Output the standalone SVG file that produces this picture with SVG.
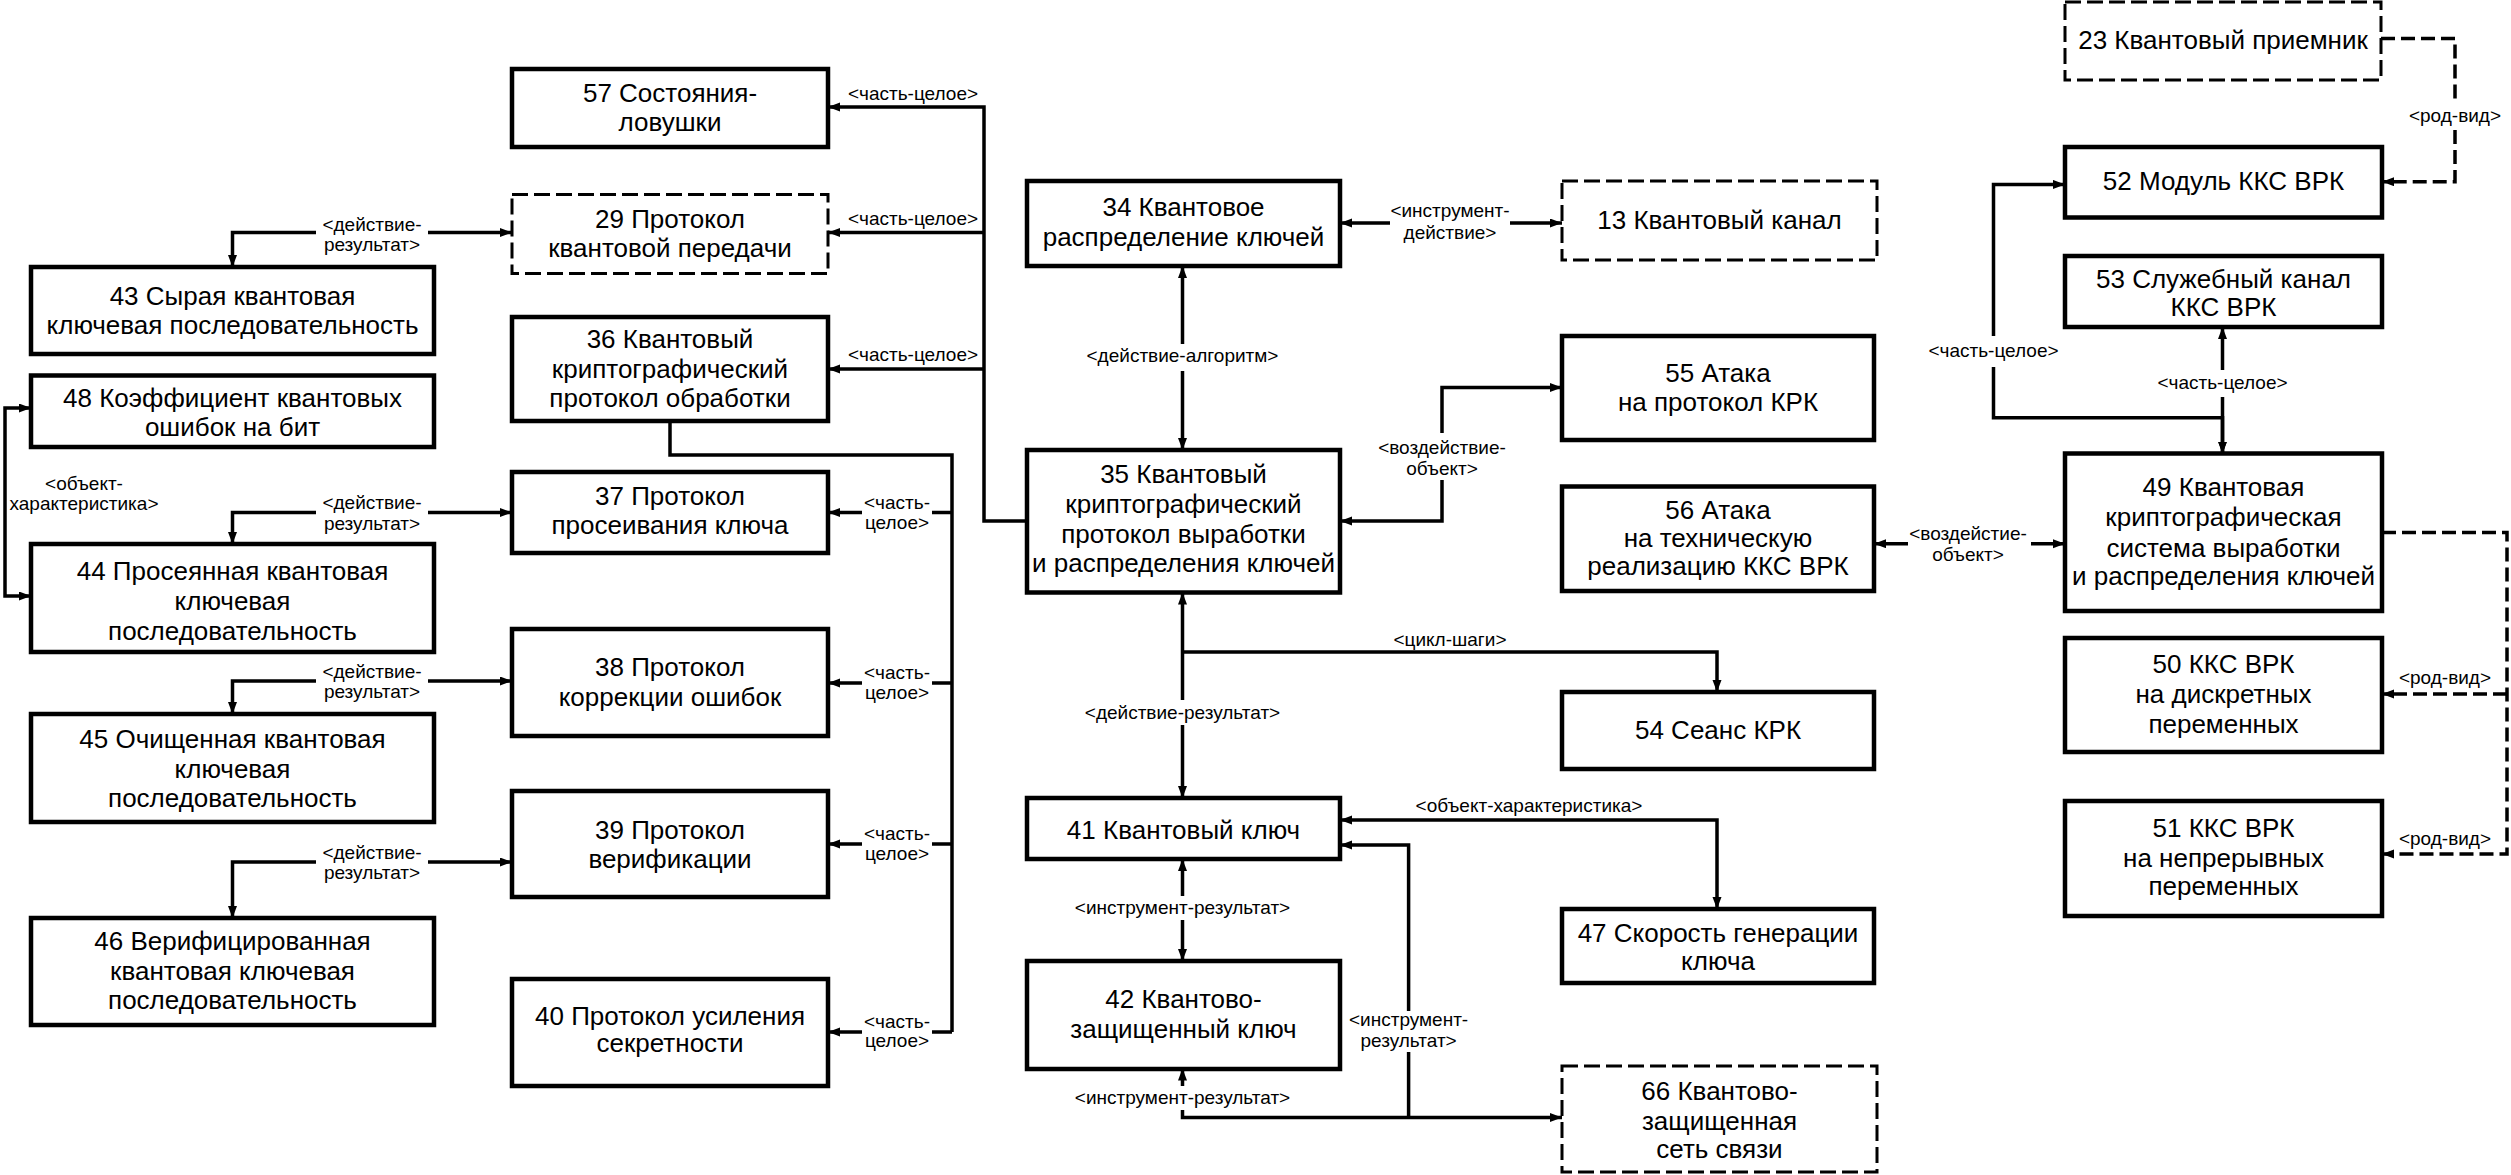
<svg xmlns="http://www.w3.org/2000/svg" width="2511" height="1175" viewBox="0 0 2511 1175">
<style>
  .box { fill: #fff; stroke: #000; stroke-width: 4.5; }
  .dbox { fill: #fff; stroke: #000; stroke-width: 3; stroke-dasharray: 16 6; }
  .t { font-family: "Liberation Sans", Arial, sans-serif; font-size: 26px; text-anchor: middle; fill: #000; }
  .lb { font-family: "Liberation Sans", Arial, sans-serif; font-size: 19px; text-anchor: middle; fill: #000; }
  .c { fill: none; stroke: #000; stroke-width: 3.5; }
  .cd { fill: none; stroke: #000; stroke-width: 3.5; stroke-dasharray: 14 6; }
  .ae { marker-end: url(#ah); }
  .as { marker-start: url(#ah); }
</style>
<defs>
  <marker id="ah" markerUnits="userSpaceOnUse" markerWidth="13" markerHeight="10" refX="12" refY="4.5" orient="auto-start-reverse">
    <path d="M0,0 L12,4.5 L0,9 z" fill="#000"/>
  </marker>
</defs>
<rect width="2511" height="1175" fill="#fff"/>

<g id="connectors">
  <path class="c as ae" d="M232.5 267 V232.5 H316 M428 232.5 H512"/>
  <path class="c as ae" d="M232.5 544 V512.5 H316 M428 512.5 H512"/>
  <path class="c as ae" d="M232.5 714 V681 H316 M428 681 H512"/>
  <path class="c as ae" d="M232.5 918 V862 H316 M428 862 H512"/>
  <path class="c as ae" d="M31 408 H5 V596 H31"/>
  <path class="c as" d="M828 107 H984 V521 H1027"/>
  <path class="c as" d="M828 232.5 H984"/>
  <path class="c as" d="M828 369 H984"/>
  <path class="c" d="M670 421 V455 H952 V1032"/>
  <path class="c ae" d="M952 512.5 H932 M862 512.5 H828"/>
  <path class="c ae" d="M952 683 H932 M862 683 H828"/>
  <path class="c ae" d="M952 844 H932 M862 844 H828"/>
  <path class="c ae" d="M952 1032 H932 M862 1032 H828"/>
  <path class="c as ae" d="M1340 223 H1390 M1510 223 H1562"/>
  <path class="c as ae" d="M1182.5 266 V344 M1182.5 371 V450"/>
  <path class="c as ae" d="M1340 521 H1442 V480 M1442 433 V387.6 H1562"/>
  <path class="c as ae" d="M1182.5 592.5 V700 M1182.5 725 V798"/>
  <path class="c ae" d="M1182.5 652 H1717 V692"/>
  <path class="c as ae" d="M1340 820 H1717 V909"/>
  <path class="c as ae" d="M1182.5 859 V896 M1182.5 920 V961"/>
  <path class="c as ae" d="M1182.5 1068.5 V1086 M1182.5 1110 V1117.5 H1562"/>
  <path class="c as" d="M1340 845 H1408.6 V1011 M1408.6 1052 V1117.5"/>
  <path class="cd ae" d="M2381 38.4 H2455 V103 M2455 130 V181.7 H2382"/>
  <path class="cd ae" d="M2382 532.5 H2507 V854 H2382"/>
  <path class="cd ae" d="M2507 694 H2382"/>
  <path class="c as ae" d="M2065 184.4 H1993.5 V336 M1993.5 367 V417.7 H2222.5 V453.5"/>
  <path class="c as ae" d="M2222.5 327 V370 M2222.5 397 V453.5"/>
  <path class="c as ae" d="M1874 543.7 H1908 M2031 543.7 H2065"/>

  <text class="lb" x="372" y="230.5">&lt;действие-</text>
  <text class="lb" x="372" y="250.5">результат&gt;</text>
  <text class="lb" x="372" y="508.5">&lt;действие-</text>
  <text class="lb" x="372" y="529.5">результат&gt;</text>
  <text class="lb" x="372" y="677.5">&lt;действие-</text>
  <text class="lb" x="372" y="697.5">результат&gt;</text>
  <text class="lb" x="372" y="858.5">&lt;действие-</text>
  <text class="lb" x="372" y="878.5">результат&gt;</text>
  <text class="lb" x="84" y="490">&lt;объект-</text>
  <text class="lb" x="84" y="510">характеристика&gt;</text>
  <text class="lb" x="913" y="99.5">&lt;часть-целое&gt;</text>
  <text class="lb" x="913" y="224.5">&lt;часть-целое&gt;</text>
  <text class="lb" x="913" y="360.5">&lt;часть-целое&gt;</text>
  <text class="lb" x="897" y="508.5">&lt;часть-</text>
  <text class="lb" x="897" y="528.5">целое&gt;</text>
  <text class="lb" x="897" y="678.5">&lt;часть-</text>
  <text class="lb" x="897" y="698.5">целое&gt;</text>
  <text class="lb" x="897" y="839.5">&lt;часть-</text>
  <text class="lb" x="897" y="859.5">целое&gt;</text>
  <text class="lb" x="897" y="1027.5">&lt;часть-</text>
  <text class="lb" x="897" y="1046.5">целое&gt;</text>
  <text class="lb" x="1450" y="217">&lt;инструмент-</text>
  <text class="lb" x="1450" y="239">действие&gt;</text>
  <text class="lb" x="1182.5" y="362">&lt;действие-алгоритм&gt;</text>
  <text class="lb" x="1442" y="453.5">&lt;воздействие-</text>
  <text class="lb" x="1442" y="475">объект&gt;</text>
  <text class="lb" x="1182.5" y="718.5">&lt;действие-результат&gt;</text>
  <text class="lb" x="1450" y="646">&lt;цикл-шаги&gt;</text>
  <text class="lb" x="1529" y="811.5">&lt;объект-характеристика&gt;</text>
  <text class="lb" x="1182.5" y="914">&lt;инструмент-результат&gt;</text>
  <text class="lb" x="1182.5" y="1104">&lt;инструмент-результат&gt;</text>
  <text class="lb" x="1408.6" y="1025.5">&lt;инструмент-</text>
  <text class="lb" x="1408.6" y="1046.5">результат&gt;</text>
  <text class="lb" x="2455" y="121.5">&lt;род-вид&gt;</text>
  <text class="lb" x="2445" y="683.5">&lt;род-вид&gt;</text>
  <text class="lb" x="2445" y="844.5">&lt;род-вид&gt;</text>
  <text class="lb" x="1993.5" y="356.5">&lt;часть-целое&gt;</text>
  <text class="lb" x="2222.5" y="388.5">&lt;часть-целое&gt;</text>
  <text class="lb" x="1968" y="540">&lt;воздейстие-</text>
  <text class="lb" x="1968" y="560.5">объект&gt;</text>
</g>

<g id="n57"><rect class="box" x="512" y="69" width="316" height="78"/>
  <text class="t" x="670" y="102">57 Состояния-</text><text class="t" x="670" y="131">ловушки</text></g>
<g id="n29"><rect class="dbox" x="512" y="194.5" width="316" height="79"/>
  <text class="t" x="670" y="228">29 Протокол</text><text class="t" x="670" y="256.6">квантовой передачи</text></g>
<g id="n43"><rect class="box" x="31" y="267" width="403" height="87"/>
  <text class="t" x="232.5" y="305">43 Сырая квантовая</text><text class="t" x="232.5" y="334">ключевая последовательность</text></g>
<g id="n36"><rect class="box" x="512" y="317" width="316" height="104"/>
  <text class="t" x="670" y="347.6">36 Квантовый</text><text class="t" x="670" y="377.7">криптографический</text><text class="t" x="670" y="407">протокол обработки</text></g>
<g id="n48"><rect class="box" x="31" y="375.5" width="403" height="71.5"/>
  <text class="t" x="232.5" y="407">48 Коэффициент квантовых</text><text class="t" x="232.5" y="436">ошибок на бит</text></g>
<g id="n37"><rect class="box" x="512" y="472" width="316" height="81"/>
  <text class="t" x="670" y="505">37 Протокол</text><text class="t" x="670" y="534">просеивания ключа</text></g>
<g id="n44"><rect class="box" x="31" y="544" width="403" height="108"/>
  <text class="t" x="232.5" y="580">44 Просеянная квантовая</text><text class="t" x="232.5" y="610">ключевая</text><text class="t" x="232.5" y="640">последовательность</text></g>
<g id="n38"><rect class="box" x="512" y="629" width="316" height="107"/>
  <text class="t" x="670" y="676">38 Протокол</text><text class="t" x="670" y="706">коррекции ошибок</text></g>
<g id="n45"><rect class="box" x="31" y="714" width="403" height="108"/>
  <text class="t" x="232.5" y="748">45 Очищенная квантовая</text><text class="t" x="232.5" y="777.6">ключевая</text><text class="t" x="232.5" y="807">последовательность</text></g>
<g id="n39"><rect class="box" x="512" y="791" width="316" height="106"/>
  <text class="t" x="670" y="838.6">39 Протокол</text><text class="t" x="670" y="867.6">верификации</text></g>
<g id="n46"><rect class="box" x="31" y="918" width="403" height="107"/>
  <text class="t" x="232.5" y="949.6">46 Верифицированная</text><text class="t" x="232.5" y="979.7">квантовая ключевая</text><text class="t" x="232.5" y="1009">последовательность</text></g>
<g id="n40"><rect class="box" x="512" y="979" width="316" height="107"/>
  <text class="t" x="670" y="1025">40 Протокол усиления</text><text class="t" x="670" y="1052">секретности</text></g>
<g id="n34"><rect class="box" x="1027" y="181" width="313" height="85"/>
  <text class="t" x="1183.5" y="216">34 Квантовое</text><text class="t" x="1183.5" y="246">распределение ключей</text></g>
<g id="n13"><rect class="dbox" x="1562" y="181" width="315" height="79"/>
  <text class="t" x="1719.5" y="229">13 Квантовый канал</text></g>
<g id="n35"><rect class="box" x="1027" y="450" width="313" height="142.5"/>
  <text class="t" x="1183.5" y="483">35 Квантовый</text><text class="t" x="1183.5" y="513">криптографический</text><text class="t" x="1183.5" y="542.6">протокол выработки</text><text class="t" x="1183.5" y="571.6">и распределения ключей</text></g>
<g id="n55"><rect class="box" x="1562" y="336" width="312" height="104"/>
  <text class="t" x="1718" y="381.5">55 Атака</text><text class="t" x="1718" y="411">на протокол КРК</text></g>
<g id="n56"><rect class="box" x="1562" y="486.5" width="312" height="104.5"/>
  <text class="t" x="1718" y="519">56 Атака</text><text class="t" x="1718" y="547">на техническую</text><text class="t" x="1718" y="575">реализацию ККС ВРК</text></g>
<g id="n41"><rect class="box" x="1027" y="798" width="313" height="61"/>
  <text class="t" x="1183.5" y="838.6">41 Квантовый ключ</text></g>
<g id="n42"><rect class="box" x="1027" y="961" width="313" height="108"/>
  <text class="t" x="1183.5" y="1008">42 Квантово-</text><text class="t" x="1183.5" y="1038">защищенный ключ</text></g>
<g id="n54"><rect class="box" x="1562" y="692" width="312" height="77"/>
  <text class="t" x="1718" y="739">54 Сеанс КРК</text></g>
<g id="n47"><rect class="box" x="1562" y="909" width="312" height="74"/>
  <text class="t" x="1718" y="942">47 Скорость генерации</text><text class="t" x="1718" y="970">ключа</text></g>
<g id="n66"><rect class="dbox" x="1562" y="1066" width="315" height="106"/>
  <text class="t" x="1719.5" y="1100">66 Квантово-</text><text class="t" x="1719.5" y="1130">защищенная</text><text class="t" x="1719.5" y="1158">сеть связи</text></g>
<g id="n23"><rect class="dbox" x="2065" y="2" width="316" height="78"/>
  <text class="t" x="2223" y="48.5">23 Квантовый приемник</text></g>
<g id="n52"><rect class="box" x="2065" y="147" width="317" height="70.5"/>
  <text class="t" x="2223.5" y="189.6">52 Модуль ККС ВРК</text></g>
<g id="n53"><rect class="box" x="2065" y="256" width="317" height="71"/>
  <text class="t" x="2223.5" y="287.5">53 Служебный канал</text><text class="t" x="2223.5" y="315.7">ККС ВРК</text></g>
<g id="n49"><rect class="box" x="2065" y="453.5" width="317" height="157.5"/>
  <text class="t" x="2223.5" y="496">49 Квантовая</text><text class="t" x="2223.5" y="526">криптографическая</text><text class="t" x="2223.5" y="556.5">система выработки</text><text class="t" x="2223.5" y="584.7">и распределения ключей</text></g>
<g id="n50"><rect class="box" x="2065" y="638" width="317" height="114"/>
  <text class="t" x="2223.5" y="673">50 ККС ВРК</text><text class="t" x="2223.5" y="703">на дискретных</text><text class="t" x="2223.5" y="732.5">переменных</text></g>
<g id="n51"><rect class="box" x="2065" y="801" width="317" height="115"/>
  <text class="t" x="2223.5" y="836.7">51 ККС ВРК</text><text class="t" x="2223.5" y="866.8">на непрерывных</text><text class="t" x="2223.5" y="895">переменных</text></g>
</svg>
